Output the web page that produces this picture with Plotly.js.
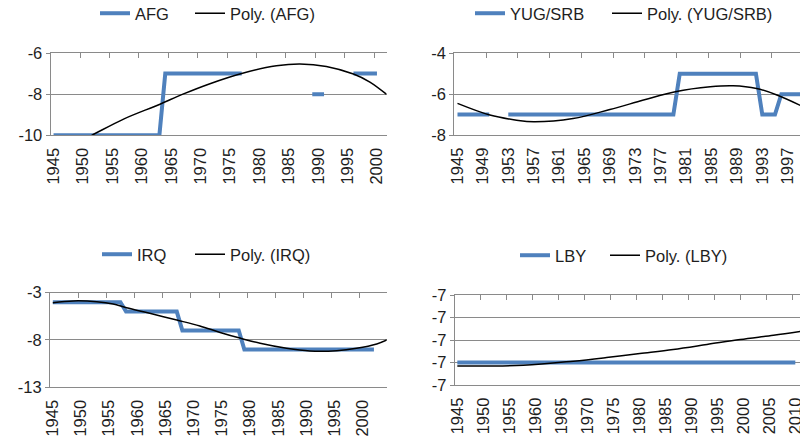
<!DOCTYPE html>
<html>
<head>
<meta charset="utf-8">
<script src="https://cdn.plot.ly/plotly-3.0.1.min.js"></script>
<style>html,body{margin:0;padding:0;background:#fff}#chart{width:800px;height:440px}</style>
</head>
<body>
<div id="chart"></div>
<script>
// ---------- DATA ----------
// AFG
var afgYears = [1945,1946,1947,1948,1949,1950,1951,1952,1953,1954,1955,1956,1957,1958,1959,1960,1961,1962,1963,1964,1965,1966,1967,1968,1969,1970,1971,1972,1973,1974,1975,1976,1977,1978,1979,1980,1981,1982,1983,1984,1985,1986,1987,1988,1989,1990,1991,1992,1993,1994,1995,1996,1997,1998,1999,2000,2001];
var afgValues = [-10,-10,-10,-10,-10,-10,-10,-10,-10,-10,-10,-10,-10,-10,-10,-10,-10,-10,-10,-7,-7,-7,-7,-7,-7,-7,-7,-7,-7,-7,-7,-7,-7,null,null,null,null,null,null,null,null,null,null,null,-8,-8,-8,null,null,null,null,-7,-7,-7,-7,-7,null];
var afgTrendX = [1948,1951.5,1957,1963,1967,1971.6,1977.3,1982.9,1986.9,1991.4,1996,1998.8,2001.6];
var afgTrendY = [-10.5,-10.0,-9.2,-8.5,-8.0,-7.49,-6.97,-6.62,-6.53,-6.65,-7.02,-7.41,-8.0];
// YUG/SRB
var yugYears = [1945,1946,1947,1948,1949,1950,1951,1952,1953,1954,1955,1956,1957,1958,1959,1960,1961,1962,1963,1964,1965,1966,1967,1968,1969,1970,1971,1972,1973,1974,1975,1976,1977,1978,1979,1980,1981,1982,1983,1984,1985,1986,1987,1988,1989,1990,1991,1992,1993,1994,1995,1996,1997,1998,1999];
var yugValues = [-7,-7,-7,-7,-7,-7,null,null,-7,-7,-7,-7,-7,-7,-7,-7,-7,-7,-7,-7,-7,-7,-7,-7,-7,-7,-7,-7,-7,-7,-7,-7,-7,-7,-7,-5,-5,-5,-5,-5,-5,-5,-5,-5,-5,-5,-5,-5,-7,-7,-7,-6,-6,-6,-6];
var yugTrendX = [1945,1950.1,1954.3,1957,1963.2,1969,1974.3,1979.3,1984.8,1988.4,1992.1,1995.3,1999];
var yugTrendY = [-6.45,-7.02,-7.27,-7.35,-7.19,-6.75,-6.29,-5.88,-5.64,-5.59,-5.72,-6.04,-6.55];
// IRQ
var irqYears = [1945,1946,1947,1948,1949,1950,1951,1952,1953,1954,1955,1956,1957,1958,1959,1960,1961,1962,1963,1964,1965,1966,1967,1968,1969,1970,1971,1972,1973,1974,1975,1976,1977,1978,1979,1980,1981,1982,1983,1984,1985,1986,1987,1988,1989,1990,1991,1992,1993,1994,1995,1996,1997,1998,1999,2000,2001,2002];
var irqValues = [-4,-4,-4,-4,-4,-4,-4,-4,-4,-4,-4,-4,-4,-5,-5,-5,-5,-5,-5,-5,-5,-5,-5,-7,-7,-7,-7,-7,-7,-7,-7,-7,-7,-7,-9,-9,-9,-9,-9,-9,-9,-9,-9,-9,-9,-9,-9,-9,-9,-9,-9,-9,-9,-9,-9,-9,-9,-9];
var irqTrendX = [1945,1948.6,1952.8,1955.7,1958.1,1962.2,1967,1971.1,1974.7,1978.2,1981.8,1986.5,1990.6,1995.4,1998.9,2002.5,2004.3];
var irqTrendY = [-4.06,-3.87,-3.95,-4.19,-4.6,-5.18,-5.89,-6.52,-7.2,-7.8,-8.35,-8.88,-9.16,-9.13,-8.88,-8.42,-8.0];
// LBY
var lbyYears = [1945,1946,1947,1948,1949,1950,1951,1952,1953,1954,1955,1956,1957,1958,1959,1960,1961,1962,1963,1964,1965,1966,1967,1968,1969,1970,1971,1972,1973,1974,1975,1976,1977,1978,1979,1980,1981,1982,1983,1984,1985,1986,1987,1988,1989,1990,1991,1992,1993,1994,1995,1996,1997,1998,1999,2000,2001,2002,2003,2004,2005,2006,2007,2008,2009,2010];
var lbyValues = [-7,-7,-7,-7,-7,-7,-7,-7,-7,-7,-7,-7,-7,-7,-7,-7,-7,-7,-7,-7,-7,-7,-7,-7,-7,-7,-7,-7,-7,-7,-7,-7,-7,-7,-7,-7,-7,-7,-7,-7,-7,-7,-7,-7,-7,-7,-7,-7,-7,-7,-7,-7,-7,-7,-7,-7,-7,-7,-7,-7,-7,-7,-7,-7,-7,-7];
var lbyTrendX = [1945,1957.7,1967.3,1973.7,1980.1,1986.5,1993,1999.4,2005.8,2011];
var lbyTrendY = [-7.015,-7.012,-6.994,-6.978,-6.96,-6.942,-6.92,-6.898,-6.879,-6.862];

// tick labels
var xLabels5 = ["1945","1950","1955","1960","1965","1970","1975","1980","1985","1990","1995","2000","2005","2010"];
var xLabels4 = ["1945","1949","1953","1957","1961","1965","1969","1973","1977","1981","1985","1989","1993","1997"];
var afgYLabels = ["-10","-8","-6"], afgYVals = [-10,-8,-6];
var yugYLabels = ["-8","-6","-4"], yugYVals = [-8,-6,-4];
var irqYLabels = ["-13","-8","-3"], irqYVals = [-13,-8,-3];
var lbyYLabels = ["-7","-7","-7","-7","-7"], lbyYVals = [-7.1,-7.0,-6.9,-6.8,-6.7];

// ---------- STYLE ----------
var BLUE = '#4F81BD', GRID = '#8a8a8a', TXT = '#1e1e1e';
var FONT = {family: 'Liberation Sans, Arial, sans-serif', size: 16.5, color: TXT};

function num(a){return a.map(function(s){return +s;});}
function bounds(labels){return num(labels).map(function(v){return v-0.5;});}

function seriesTrace(x, y, name, xa, ya, lg){
  return {x: x, y: y, name: name, type: 'scatter', mode: 'lines', connectgaps: false, line: {color: BLUE, width: 4}, xaxis: xa, yaxis: ya, legend: lg};
}
function trendTrace(x, y, name, xa, ya, lg){
  return {x: x, y: y, name: name, type: 'scatter', mode: 'lines', line: {color: '#000', width: 1.5, shape: 'spline', smoothing: 1}, xaxis: xa, yaxis: ya, legend: lg};
}

var traces = [
  seriesTrace(afgYears, afgValues, 'AFG', 'x', 'y', 'legend'),
  trendTrace(afgTrendX, afgTrendY, 'Poly. (AFG)', 'x5', 'y', 'legend5'),
  seriesTrace(yugYears, yugValues, 'YUG/SRB', 'x2', 'y2', 'legend2'),
  trendTrace(yugTrendX, yugTrendY, 'Poly. (YUG/SRB)', 'x6', 'y2', 'legend6'),
  seriesTrace(irqYears, irqValues, 'IRQ', 'x3', 'y3', 'legend3'),
  trendTrace(irqTrendX, irqTrendY, 'Poly. (IRQ)', 'x7', 'y3', 'legend7'),
  seriesTrace(lbyYears, lbyValues, 'LBY', 'x4', 'y4', 'legend4'),
  trendTrace(lbyTrendX, lbyTrendY, 'Poly. (LBY)', 'x8', 'y4', 'legend8')
];

function xBottom(dom, anchor, range, labels){
  return {domain: dom, range: range, anchor: anchor, tickmode: 'array', tickvals: num(labels), ticktext: labels,
    tickangle: -90, ticks: '', showgrid: false, showline: true, linecolor: GRID, linewidth: 1, zeroline: false,
    tickfont: FONT, ticklabelstandoff: 5, ticklabeloverflow: 'allow', automargin: false, fixedrange: true};
}
function xTop(over, anchor, range, tv){
  return {overlaying: over, anchor: anchor, side: 'top', range: range, tickmode: 'array', tickvals: tv,
    ticks: 'inside', ticklen: 5, tickcolor: GRID, tickwidth: 1, showline: true, linecolor: GRID, linewidth: 1,
    showgrid: false, zeroline: false, showticklabels: false, automargin: false, fixedrange: true};
}
function yAx(dom, anchor, range, vals, labels){
  return {domain: dom, anchor: anchor, range: range, tickmode: 'array', tickvals: vals, ticktext: labels,
    showgrid: true, gridcolor: GRID, gridwidth: 1, showline: true, linecolor: GRID, linewidth: 1,
    ticks: 'outside', ticklen: 4, tickcolor: GRID, zeroline: false, tickfont: FONT, automargin: false, fixedrange: true};
}
// legend item: symbol occupies x0+5..x0+35, text starts at x0+40
function leg(x0px, ypx){
  return {orientation: 'h', x: x0px / 800, y: 1 - ypx / 440, xanchor: 'left', yanchor: 'middle', font: FONT,
    bgcolor: 'rgba(0,0,0,0)', itemclick: false, itemdoubleclick: false};
}

var r1 = [1944.5, 2001.66], r2 = [1944.5, 1998.94], r3 = [1944.5, 2004.27], r4 = [1944.5, 2010.9];

var layout = {
  width: 800, height: 440, margin: {l: 0, r: 0, t: 0, b: 0, autoexpand: false},
  paper_bgcolor: '#fff', plot_bgcolor: '#fff', font: FONT,
  showlegend: true,
  xaxis: xBottom([0.06325, 0.4834], 'y', r1, xLabels5.slice(0, 12)),
  xaxis2: xBottom([0.5679, 1], 'y2', r2, xLabels4),
  xaxis3: xBottom([0.0625, 0.4834], 'y3', r3, xLabels5.slice(0, 12)),
  xaxis4: xBottom([0.5684, 1], 'y4', r4, xLabels5),
  xaxis5: xTop('x', 'y', r1, bounds(xLabels5.slice(1, 13))),
  xaxis6: xTop('x2', 'y2', r2, bounds(["1950","1955","1960","1965","1970","1975","1980","1985","1990","1995"])),
  xaxis7: xTop('x3', 'y3', r3, bounds(xLabels5.slice(1, 13))),
  xaxis8: xTop('x4', 'y4', r4, bounds(xLabels5.slice(1, 14))),
  yaxis: yAx([0.6925, 0.8795], 'x', [-10, -6], afgYVals, afgYLabels),
  yaxis2: yAx([0.693, 0.879], 'x2', [-8, -4], yugYVals, yugYLabels),
  yaxis3: yAx([0.1198, 0.3348], 'x3', [-13, -3], irqYVals, irqYLabels),
  yaxis4: yAx([0.125, 0.3295], 'x4', [-7.1, -6.7], lbyYVals, lbyYLabels),
  legend: leg(95, 13.5), legend5: leg(190, 13.5),
  legend2: leg(470, 13.5), legend6: leg(607, 13.5),
  legend3: leg(97, 254.5), legend7: leg(190, 254.5),
  legend4: leg(515, 255.5), legend8: leg(605, 255.5)
};

Plotly.newPlot('chart', traces, layout, {staticPlot: true, displayModeBar: false});
</script>
</body>
</html>
